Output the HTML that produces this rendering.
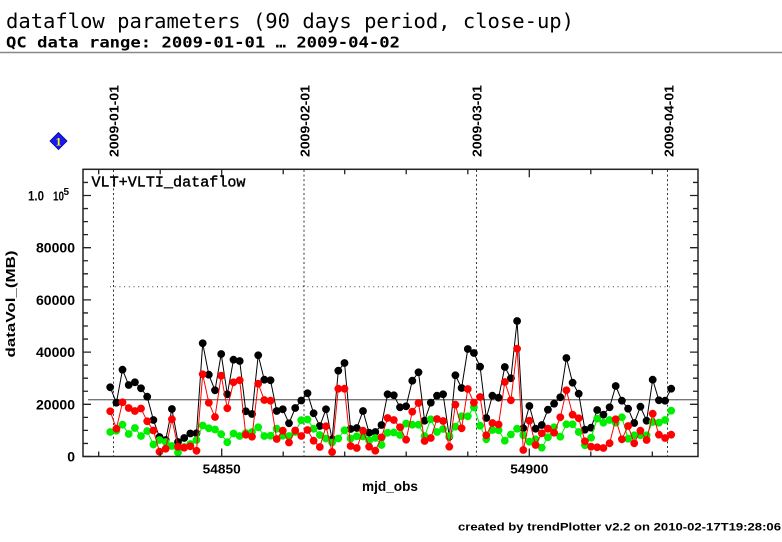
<!DOCTYPE html>
<html>
<head>
<meta charset="utf-8">
<style>
html,body{margin:0;padding:0;background:#fff;}
svg{display:block;}
</style>
</head>
<body>
<svg width="782" height="542" viewBox="0 0 782 542" xmlns="http://www.w3.org/2000/svg">
<defs>
<marker id="mk" markerUnits="userSpaceOnUse" markerWidth="10" markerHeight="10" refX="5" refY="5" overflow="visible"><circle cx="5" cy="5" r="3.9" fill="#000"/></marker>
<marker id="mr" markerUnits="userSpaceOnUse" markerWidth="10" markerHeight="10" refX="5" refY="5" overflow="visible"><circle cx="5" cy="5" r="3.9" fill="#ff0000"/></marker>
<marker id="mg" markerUnits="userSpaceOnUse" markerWidth="10" markerHeight="10" refX="5" refY="5" overflow="visible"><circle cx="5" cy="5" r="3.9" fill="#00ee00"/></marker>
</defs>
<rect width="782" height="542" fill="#fff"/>

<!-- header -->
<text x="6" y="28" font-family="DejaVu Sans Mono, Liberation Mono, monospace" font-size="20" textLength="568" lengthAdjust="spacingAndGlyphs" fill="#000">dataflow parameters (90 days period, close-up)</text>
<text x="6" y="47.5" font-family="DejaVu Sans Mono, Liberation Mono, monospace" font-size="15" font-weight="bold" textLength="394" lengthAdjust="spacingAndGlyphs" fill="#000">QC data range: 2009-01-01 … 2009-04-02</text>
<line x1="0" y1="52.5" x2="782" y2="52.5" stroke="#888" stroke-width="1.5"/>

<!-- diamond legend -->
<polygon points="58.5,132.5 67,141 58.5,149.5 50,141" fill="#1a1aee" stroke="#0000aa" stroke-width="0.8"/>
<text x="58.5" y="145.5" text-anchor="middle" font-family="Liberation Serif, serif" font-weight="bold" font-size="12" fill="#ffff00">1</text>

<!-- date labels -->
<g font-family="Liberation Sans, sans-serif" font-weight="bold" font-size="13" fill="#000">
<text transform="translate(118.7,157) rotate(-90)" textLength="72" lengthAdjust="spacingAndGlyphs">2009-01-01</text>
<text transform="translate(309.5,157) rotate(-90)" textLength="72" lengthAdjust="spacingAndGlyphs">2009-02-01</text>
<text transform="translate(481.5,157) rotate(-90)" textLength="72" lengthAdjust="spacingAndGlyphs">2009-03-01</text>
<text transform="translate(673.3,157) rotate(-90)" textLength="72" lengthAdjust="spacingAndGlyphs">2009-04-01</text>
</g>

<!-- dotted reference lines -->
<g stroke="#333" stroke-width="1" stroke-dasharray="2 2.6" fill="none">
<line x1="113.5" y1="170" x2="113.5" y2="456"/>
<line x1="304" y1="170" x2="304" y2="456"/>
<line x1="476.5" y1="170" x2="476.5" y2="456"/>
<line x1="667.5" y1="170" x2="667.5" y2="456"/>
</g>
<line x1="110" y1="286.8" x2="670" y2="286.8" stroke="#444" stroke-width="1" stroke-dasharray="1 3.7"/>
<line x1="88" y1="399.7" x2="698" y2="399.7" stroke="#777" stroke-width="1.4"/>

<!-- data series -->
<polyline fill="none" stroke="#000" stroke-width="1" marker-start="url(#mk)" marker-mid="url(#mk)" marker-end="url(#mk)" points="110.2,387.3 116.4,402.7 122.5,369.7 128.7,385 134.9,382.3 141,388.3 147.2,396.7 153.4,420 159.5,437 165.7,440 171.9,409 178,442 184.2,438 190.3,433.5 196.5,433.3 202.7,343.3 208.8,374.7 215,390.3 221.2,354 227.3,394.3 233.5,359.7 239.7,361 245.8,411.3 252,414 258.2,355.3 264.3,379.7 270.5,380.3 276.7,411 282.8,409.3 289,423.3 295.2,408 301.3,400.5 307.5,393.3 313.6,413.3 319.8,426 326,409.3 332.1,439.3 338.3,370.7 344.5,363 350.6,429 356.8,428 363,411 369.1,432.7 375.3,432 381.5,425 387.6,394.3 393.8,395.3 400,407.3 406.1,406.3 412.3,380.7 418.5,372.3 424.6,420.7 430.8,402.7 437,395.7 443.1,394.3 449.3,436.7 455.4,375.3 461.6,388 467.8,349 473.9,353 480.1,366.7 486.3,418 492.4,395.7 498.6,397.7 504.8,367 510.9,378.3 517.1,321 523.3,428.3 529.4,406 535.6,428.7 541.8,425 547.9,409.7 554.1,403.7 560.3,397.3 566.4,358 572.6,382.7 578.7,393.7 584.9,429.7 591.1,427.7 597.2,410 603.4,414.7 609.6,407.3 615.7,386 621.9,400.7 628.1,408.7 634.2,423 640.4,406.7 646.6,420.7 652.7,379.7 658.9,400.3 665.1,400.7 671.2,388.7"/>
<polyline fill="none" stroke="#00ee00" stroke-width="1" marker-start="url(#mg)" marker-mid="url(#mg)" marker-end="url(#mg)" points="110.2,432 116.4,430.7 122.5,424.7 128.7,434 134.9,428 141,436 147.2,431 153.4,444.5 159.5,440 165.7,442 171.9,446 178,452.5 184.2,447 190.3,444 196.5,440 202.7,425.5 208.8,428.3 215,429.5 221.2,434.2 227.3,442.2 233.5,433.5 239.7,436 245.8,433 252,432 258.2,427.3 264.3,436 270.5,435.7 276.7,428.7 282.8,435.7 289,436 295.2,432 301.3,420.2 307.5,419.5 313.6,428.8 319.8,435 326,438.5 332.1,442.5 338.3,438.5 344.5,430.3 350.6,438.5 356.8,436.3 363,436.5 369.1,440.5 375.3,438 381.5,445 387.6,432.8 393.8,432.5 400,435 406.1,423.5 412.3,424.7 418.5,424.7 424.6,436 430.8,419.3 437,432 443.1,429 449.3,436 455.4,426.7 461.6,416.3 467.8,416.3 473.9,407.3 480.1,425.7 486.3,439.3 492.4,430 498.6,430.3 504.8,440.7 510.9,434.5 517.1,428.7 523.3,435.3 529.4,441.7 535.6,439.3 541.8,447.7 547.9,437.3 554.1,427.3 560.3,436.7 566.4,424.3 572.6,424.3 578.7,432 584.9,445.3 591.1,437.7 597.2,418.7 603.4,422.7 609.6,420 615.7,422.7 621.9,417.3 628.1,438.7 634.2,435.3 640.4,435.3 646.6,435.3 652.7,422 658.9,422.7 665.1,420 671.2,410.7"/>
<polyline fill="none" stroke="#ff0000" stroke-width="1" marker-start="url(#mr)" marker-mid="url(#mr)" marker-end="url(#mr)" points="110.2,411.3 116.4,428.7 122.5,402.3 128.7,408 134.9,411 141,408.5 147.2,421.3 153.4,430.5 159.5,451.7 165.7,448.7 171.9,419.3 178,446.8 184.2,447.7 190.3,446.3 196.5,450.8 202.7,374.3 208.8,402.7 215,417 221.2,375.7 227.3,408.3 233.5,382.3 239.7,380.3 245.8,434.7 252,436.7 258.2,383.7 264.3,400 270.5,400.7 276.7,439 282.8,430.7 289,442.5 295.2,430.5 301.3,436 307.5,430 313.6,440.7 319.8,447 326,426.3 332.1,452 338.3,388.7 344.5,388.7 350.6,446 356.8,448 363,430.7 369.1,446.7 375.3,450.7 381.5,437.3 387.6,418 393.8,420 400,427.3 406.1,439.7 412.3,411.7 418.5,403 424.6,441 430.8,438 437,419 443.1,421 449.3,446.7 455.4,404.7 461.6,428.3 467.8,389 473.9,402.7 480.1,397 486.3,435.3 492.4,423 498.6,424.5 504.8,382 510.9,400.3 517.1,348.7 523.3,450 529.4,420.7 535.6,445 541.8,433.3 547.9,428.7 554.1,432.7 560.3,417.3 566.4,390.3 572.6,414.7 578.7,418.3 584.9,441.3 591.1,446.7 597.2,447.3 603.4,448 609.6,443.3 615.7,419.3 621.9,439.3 628.1,426 634.2,443.3 640.4,430.7 646.6,440 652.7,413.7 658.9,434.7 665.1,438 671.2,434.7"/>

<!-- frame -->
<rect x="83" y="169.3" width="615" height="287.2" fill="none" stroke="#222" stroke-width="1.5"/>

<!-- ticks -->
<path fill="none" stroke="#222" stroke-width="1.3" d="
M83 456.5h8M83 404.3h8M83 352.1h8M83 299.9h8M83 247.7h8M83 195.5h8
M83 443.45h5M83 430.4h5M83 417.35h5M83 391.25h5M83 378.2h5M83 365.15h5M83 339.05h5M83 326h5M83 312.95h5M83 286.85h5M83 273.8h5M83 260.75h5M83 234.65h5M83 221.6h5M83 208.55h5M83 182.45h5
M698 404.3h-8M698 352.1h-8M698 299.9h-8M698 247.7h-8M698 195.5h-8
M698 443.45h-5M698 430.4h-5M698 417.35h-5M698 391.25h-5M698 378.2h-5M698 365.15h-5M698 339.05h-5M698 326h-5M698 312.95h-5M698 286.85h-5M698 273.8h-5M698 260.75h-5M698 234.65h-5M698 221.6h-5M698 208.55h-5M698 182.45h-5
M98.7 456.5v-5M160.2 456.5v-5M221.7 456.5v-8M283.2 456.5v-5M344.7 456.5v-5M406.2 456.5v-5M467.8 456.5v-5M529.3 456.5v-8M590.8 456.5v-5M652.3 456.5v-5
M98.7 169.3v5M160.2 169.3v5M221.7 169.3v8M283.2 169.3v5M344.7 169.3v5M406.2 169.3v5M467.8 169.3v5M529.3 169.3v8M590.8 169.3v5M652.3 169.3v5"/>

<!-- series label -->
<text x="91.5" y="186.5" font-family="Liberation Mono, monospace" font-size="15" textLength="154" lengthAdjust="spacingAndGlyphs" fill="#000" stroke="#000" stroke-width="0.4">VLT+VLTI_dataflow</text>

<!-- y tick labels -->
<g font-family="Liberation Sans, sans-serif" font-weight="bold" font-size="14" fill="#000" text-anchor="end">
<text x="75" y="461.5">0</text>
<text x="75" y="409.3" textLength="39" lengthAdjust="spacingAndGlyphs">20000</text>
<text x="75" y="357.1" textLength="39" lengthAdjust="spacingAndGlyphs">40000</text>
<text x="75" y="304.9" textLength="39" lengthAdjust="spacingAndGlyphs">60000</text>
<text x="75" y="252.7" textLength="39" lengthAdjust="spacingAndGlyphs">80000</text>
</g>
<g font-family="Liberation Sans, sans-serif" font-weight="bold" fill="#000">
<text x="28" y="200.5" font-size="14" textLength="16" lengthAdjust="spacingAndGlyphs">1.0</text>
<text x="53" y="200.5" font-size="13" textLength="11" lengthAdjust="spacingAndGlyphs">10</text>
<text x="63.5" y="195" font-size="10">5</text>
</g>

<!-- y axis title -->
<text transform="translate(15,304) rotate(-90)" text-anchor="middle" font-family="Liberation Sans, sans-serif" font-weight="bold" font-size="13" textLength="107" lengthAdjust="spacingAndGlyphs" fill="#000">dataVol_(MB)</text>

<!-- x tick labels -->
<g font-family="Liberation Sans, sans-serif" font-weight="bold" font-size="13" fill="#000" text-anchor="middle">
<text x="221.7" y="473.3" textLength="38" lengthAdjust="spacingAndGlyphs">54850</text>
<text x="529.3" y="473.3" textLength="38" lengthAdjust="spacingAndGlyphs">54900</text>
</g>
<text x="390" y="491" text-anchor="middle" font-family="Liberation Sans, sans-serif" font-weight="bold" font-size="14" textLength="56" lengthAdjust="spacingAndGlyphs" fill="#000">mjd_obs</text>

<!-- footer -->
<text x="458" y="530.7" font-family="Liberation Sans, sans-serif" font-weight="bold" font-size="11" textLength="323" lengthAdjust="spacingAndGlyphs" fill="#000">created by trendPlotter v2.2 on 2010-02-17T19:28:06</text>
</svg>
</body>
</html>
